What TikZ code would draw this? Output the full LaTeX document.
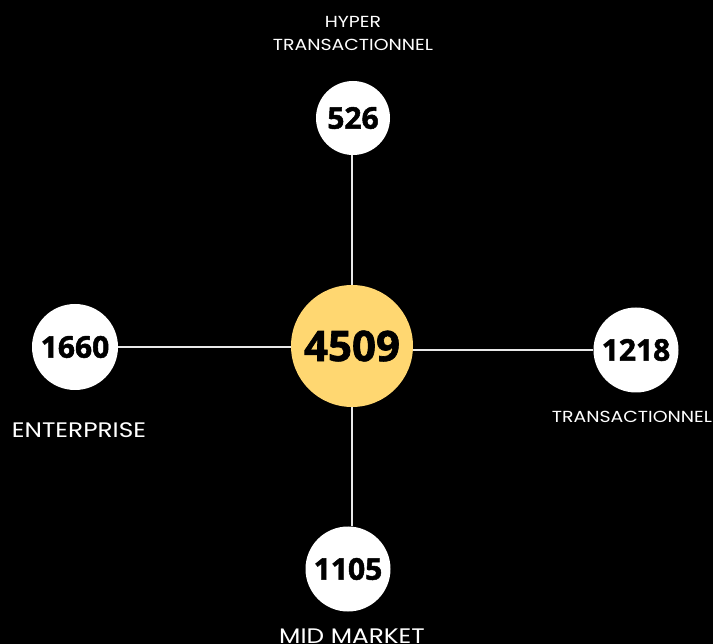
\documentclass[tikz,border=0pt]{standalone}
\usepackage{fontspec}
\setmainfont{Open Sans}[BoldFeatures={FakeBold=1.6}]
\newfontfamily\labelfont[FakeStretch=1.18]{Poppins}
\definecolor{giallo}{HTML}{FFD771}
\definecolor{linea}{HTML}{E8E8E8}
\tikzset{
  cerchio/.style={circle, fill=white, text=black, inner sep=0pt, font=\bfseries\fontsize{30}{30}\selectfont},
  etichetta/.style={text=white, align=center, font=\labelfont\fontsize{16}{23}\selectfont},
  linkline/.style={linea, line width=1.2pt},
}
\begin{document}
\begin{tikzpicture}[x=1pt,y=-1pt]
  \fill[black] (0,0) rectangle (713,644);
  \useasboundingbox (0,0) rectangle (713,644);
  % Cerchi
  \node[cerchio, fill=giallo, minimum size=122pt, font=\bfseries\fontsize{42}{42}\selectfont] (tot) at (352,346) {4509};
  \node[cerchio, minimum size=74pt] (hyper) at (353,118) {526};
  \node[cerchio, minimum size=86pt] (enter) at (75,347) {1660};
  \node[cerchio, minimum size=85pt] (trans) at (636,350) {1218};
  \node[cerchio, minimum size=85pt] (mid) at (348,569) {1105};
  % Linee
  \draw[linkline] (tot.north) -- (tot.north |- hyper.south);
  \draw[linkline] (enter.east) -- (enter.east -| tot.west);
  \draw[linkline] (trans.west) -- (trans.west -| tot.east);
  \draw[linkline] (tot.south) -- (tot.south |- mid.north);
  % Etichette
  \node[etichetta] (lhyper) at (353,33) {HYPER\\TRANSACTIONNEL};
  \node[etichetta, font=\labelfont\fontsize{21}{24}\selectfont] (lenter) at (79,430) {ENTERPRISE};
  \node[etichetta] (ltrans) at (632,417) {TRANSACTIONNEL};
  \node[etichetta, font=\labelfont\fontsize{21}{24}\selectfont] (lmid) at (352,636) {MID MARKET};
\end{tikzpicture}
\end{document}
